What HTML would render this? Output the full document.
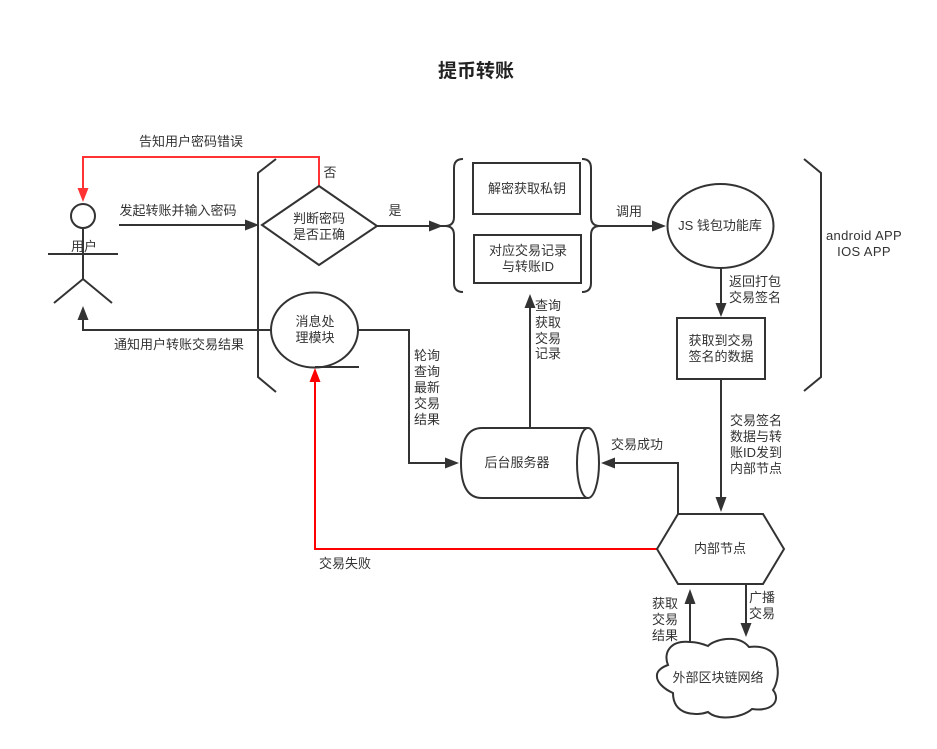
<!DOCTYPE html>
<html><head><meta charset="utf-8"><style>
html,body{margin:0;padding:0;background:#fff}
svg{display:block}
text{font-family:"Liberation Sans","Noto Sans CJK SC",sans-serif;font-size:13px;fill:#333;text-anchor:middle}
.l{fill:none;stroke:#333;stroke-width:2}
.s{fill:#fff;stroke:#333;stroke-width:2}
.a{fill:#333;stroke:none}
</style></head><body>
<svg width="937" height="749" viewBox="0 0 937 749" xmlns="http://www.w3.org/2000/svg">
<text x="476" y="77" style="font-size:19px;font-weight:bold;fill:#222">提币转账</text>

<!-- actor -->
<circle class="s" cx="83" cy="216" r="12"/>
<path class="l" d="M83 229V279M48 254H118M54 303L83 279L112 303"/>
<text x="84" y="251">用户</text>

<!-- left bracket -->
<path class="l" d="M276 159L258 173V377L276 392"/>
<!-- red no-path -->
<path fill="none" stroke="#f33" stroke-width="2" d="M319 186V157H83V190"/>
<path fill="#f33" d="M77.500 188H88.500L83 202Z"/>
<text x="191" y="146">告知用户密码错误</text>
<text x="330" y="177">否</text>

<!-- start arrow -->
<path class="l" d="M119 225H248"/>
<path class="a" d="M245 219.500L259 225L245 230.500Z"/>
<text x="178" y="215">发起转账并输入密码</text>

<!-- diamond -->
<path class="s" d="M262 225L319 186L377 226L319 265Z"/>
<text x="319" y="223">判断密码</text>
<text x="319" y="239">是否正确</text>
<path class="l" d="M377 226H445"/>
<path class="a" d="M429 220.500L443 226L429 231.500Z"/>
<text x="395" y="215">是</text>

<!-- message ellipse -->
<path class="l" d="M83 320V330H272"/>
<path class="a" d="M77.500 320L83 306L88.500 320Z"/>
<text x="179" y="349">通知用户转账交易结果</text>
<ellipse class="s" cx="314.500" cy="330" rx="43.500" ry="37.500"/>
<path class="l" d="M315 367H359"/>
<text x="315" y="326">消息处</text>
<text x="315" y="342">理模块</text>
<path class="l" d="M358 330H409V463H448"/>
<path class="a" d="M445 457.500L459 463L445 468.500Z"/>
<text x="427" y="360">轮询</text>
<text x="427" y="376">查询</text>
<text x="427" y="392">最新</text>
<text x="427" y="408">交易</text>
<text x="427" y="424">结果</text>

<!-- braces -->
<path class="l" d="M463 159Q454 159 454 168V217Q454 226 445 226Q454 226 454 235V283Q454 292 463 292"/>
<path class="l" d="M582 159Q591 159 591 168V217Q591 226 600 226Q591 226 591 235V283Q591 292 582 292"/>
<rect class="s" x="473" y="163" width="107" height="51"/>
<text x="527" y="193">解密获取私钥</text>
<rect class="s" x="474" y="235" width="107" height="48"/>
<text x="528" y="255">对应交易记录</text>
<text x="528" y="271">与转账ID</text>

<!-- JS lib -->
<path class="l" d="M600 226H655"/>
<path class="a" d="M652 220.500L666 226L652 231.500Z"/>
<text x="629" y="216">调用</text>
<ellipse class="s" cx="720.500" cy="226" rx="53" ry="42"/>
<text x="720" y="230">JS 钱包功能库</text>
<path class="l" d="M721 268V306"/>
<path class="a" d="M715.500 303H726.500L721 317Z"/>
<text x="755" y="286">返回打包</text>
<text x="755" y="302">交易签名</text>
<rect class="s" x="677" y="318" width="88" height="61"/>
<text x="721" y="345">获取到交易</text>
<text x="721" y="361">签名的数据</text>
<path class="l" d="M721 379V500"/>
<path class="a" d="M715.500 497H726.500L721 512Z"/>
<text x="756" y="425">交易签名</text>
<text x="756" y="441">数据与转</text>
<text x="756" y="457">账ID发到</text>
<text x="756" y="473">内部节点</text>

<!-- right bracket -->
<path class="l" d="M804 159L821 173V377L804 391"/>
<text x="864" y="240" style="letter-spacing:.35px">android APP</text>
<text x="864" y="256" style="letter-spacing:.35px">IOS APP</text>

<!-- server -->
<path class="l" d="M530 428V305"/>
<path class="a" d="M524.500 308L530 294L535.500 308Z"/>
<text x="548" y="310">查询</text>
<text x="548" y="327">获取</text>
<text x="548" y="343">交易</text>
<text x="548" y="358">记录</text>
<path class="s" d="M588 428H482Q461 428 461 463Q461 498 482 498H588"/>
<ellipse class="s" cx="588" cy="463" rx="11" ry="35"/>
<text x="517" y="467">后台服务器</text>

<path class="l" d="M678 514V463H612"/>
<path class="a" d="M615 457.500L601 463L615 468.500Z"/>
<text x="637" y="449">交易成功</text>

<!-- red fail -->
<path fill="none" stroke="#f00" stroke-width="2" d="M657 549H315V380"/>
<path fill="#f00" d="M309.500 382L315 368L320.500 382Z"/>
<text x="345" y="568">交易失败</text>

<!-- hexagon -->
<path class="s" d="M657 549L678 514H763L784 549L763 584H678Z"/>
<text x="720" y="553">内部节点</text>

<path class="l" d="M746 584V626"/>
<path class="a" d="M740.500 623H751.500L746 637Z"/>
<text x="762" y="602">广播</text>
<text x="762" y="618">交易</text>
<path class="l" d="M690 642V600"/>
<path class="a" d="M684.500 604L690 589L695.500 604Z"/>
<text x="665" y="608">获取</text>
<text x="665" y="624">交易</text>
<text x="665" y="640">结果</text>

<!-- cloud -->
<path class="s" d="M668 665C663 653 670 640 690 642C696 642 703 644 708 646C713 640 738 633 749 647C766 645 777 652 777 665C779 673 777 684 773 690C781 700 773 712 752 709C742 718 718 721 708 712C697 716 673 716 673 693C664 689 656 682 657 675C657 671 662 667 668 665Z"/>
<text x="718" y="682">外部区块链网络</text>
</svg>
</body></html>
